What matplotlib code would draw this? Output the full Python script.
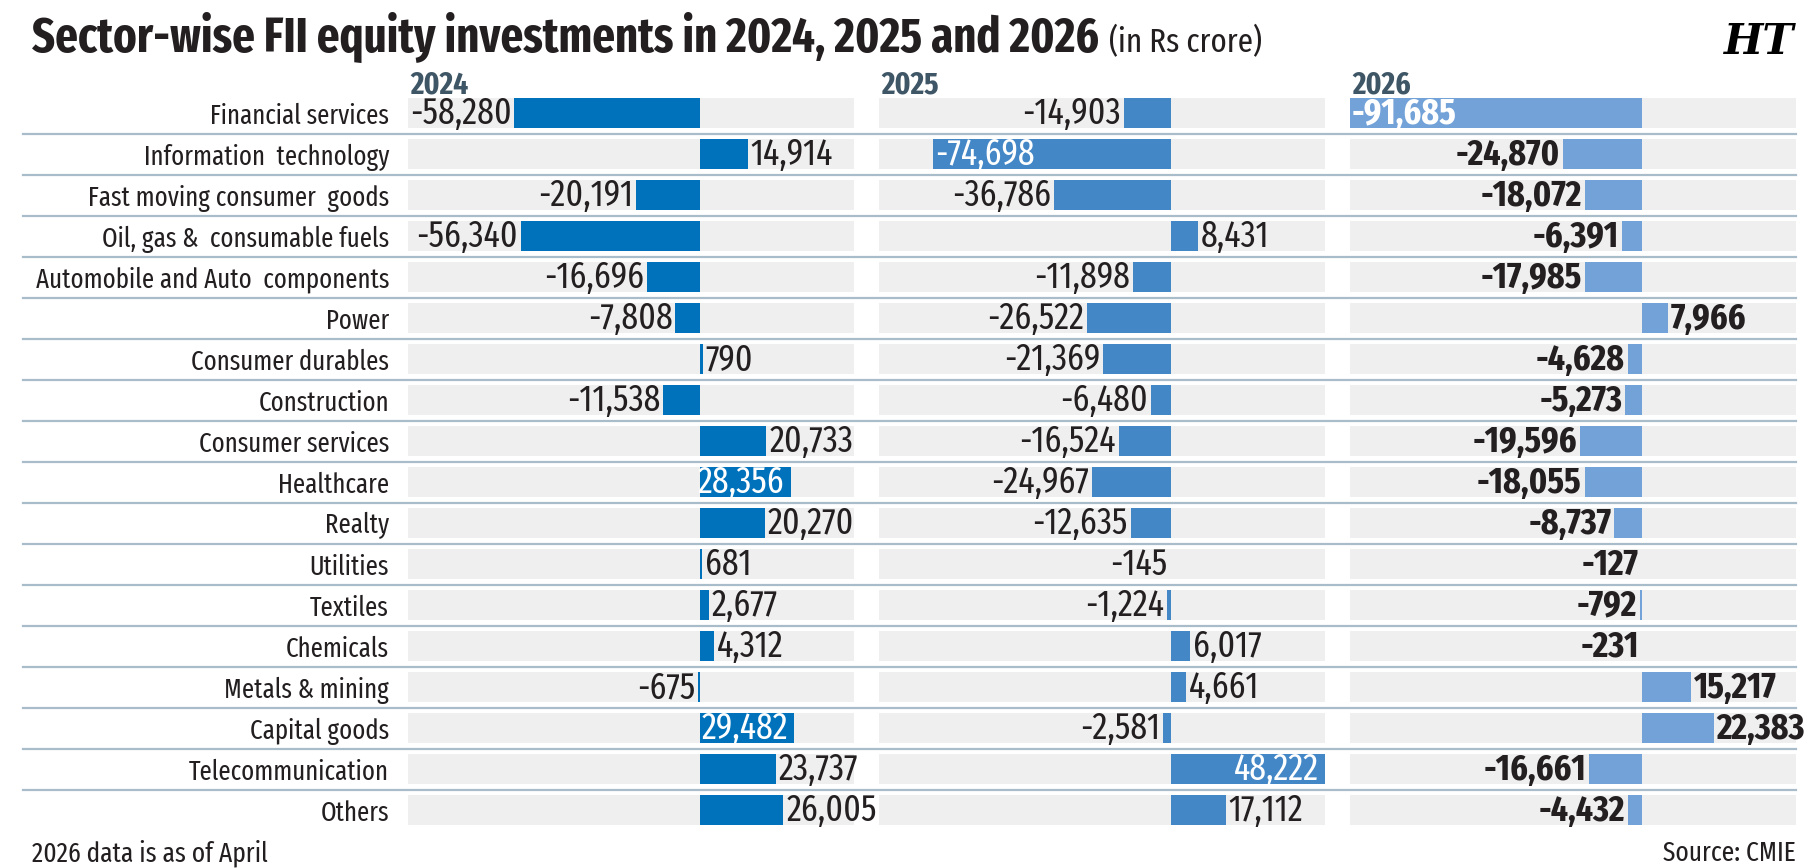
import matplotlib
matplotlib.use("Agg")
import matplotlib.pyplot as plt
from matplotlib import font_manager as fm
from matplotlib.transforms import blended_transform_factory
from matplotlib.lines import Line2D

# ---------------- data ----------------
sectors = [
    "Financial services", "Information  technology", "Fast moving consumer  goods",
    "Oil, gas &  consumable fuels", "Automobile and Auto  components", "Power",
    "Consumer durables", "Construction", "Consumer services", "Healthcare", "Realty",
    "Utilities", "Textiles", "Chemicals", "Metals & mining", "Capital goods",
    "Telecommunication", "Others",
]
years = ["2024", "2025", "2026"]
fii_2024 = [-58280, 14914, -20191, -56340, -16696, -7808, 790, -11538, 20733,
            28356, 20270, 681, 2677, 4312, -675, 29482, 23737, 26005]
fii_2025 = [-14903, -74698, -36786, 8431, -11898, -26522, -21369, -6480, -16524,
            -24967, -12635, -145, -1224, 6017, 4661, -2581, 48222, 17112]
fii_2026 = [-91685, -24870, -18072, -6391, -17985, 7966, -4628, -5273, -19596,
            -18055, -8737, -127, -792, -231, 15217, 22383, -16661, -4432]
series = [fii_2024, fii_2025, fii_2026]

# ---------------- fonts ----------------
names = {f.name for f in fm.fontManager.ttflist}
FONT = "Liberation Sans"
for cand in ["Fira Sans Extra Condensed", "Fira Sans Condensed", "PT Sans Narrow",
             "Open Sans Condensed", "Roboto Condensed", "Liberation Sans Narrow"]:
    if cand in names:
        FONT = cand
        break
plt.rcParams["font.family"] = [FONT, "DejaVu Sans"]

bar_colors = ["#0072BC", "#4387C7", "#72A2D8"]
band_color = "#EFEFEF"
sep_color = "#A9BCCA"
text_color = "#231F20"
year_color = "#3E5666"
label_weights = ["normal", "normal", "bold"]

W, H = 1811, 868
fig = plt.figure(figsize=(W / 100, H / 100), dpi=100)
fig.patch.set_facecolor("white")
renderer = fig.canvas.get_renderer()


def fit_size(text, target_px, weight="normal", base=20):
    t = fig.text(0, 0, text, fontsize=base, fontweight=weight)
    w = t.get_window_extent(renderer=renderer).width
    t.remove()
    return base * target_px / w


cat_fs = fit_size("Automobile and Auto  components", 352)
val_fs = fit_size("-58,280", 102)
year_fs = fit_size("2024", 58, "bold")
title_fs = fit_size("Sector-wise FII equity investments in 2024, 2025 and 2026", 1068, "bold")
sub_fs = fit_size("(in Rs crore)", 153)
foot_fs = fit_size("2026 data is as of April", 236)

xmin = min(min(s) for s in series)
xmax = max(max(s) for s in series)
n = len(sectors)
row0, step = 113, 41
top_px = row0 - step / 2
bot_px = row0 + (n - 1) * step + step / 2
band_left = [408, 879, 1350]
band_w = 446
bar_h = 0.73

axes = []
for i, vals in enumerate(series):
    ax = fig.add_axes([band_left[i] / W, 1 - bot_px / H, band_w / W, (bot_px - top_px) / H])
    ax.set_xlim(xmin, xmax)
    ax.set_ylim(n - 0.5, -0.5)
    ax.axis("off")
    y = list(range(n))
    ax.barh(y, [xmax - xmin] * n, left=xmin, height=bar_h, color=band_color, zorder=1)
    ax.barh(y, vals, height=bar_h, color=bar_colors[i], zorder=2)
    for yi, v in zip(y, vals):
        txt = f"{v:,}"
        inside = v > 27000 or v < -60000
        if inside:
            off, ha = ((-6, "right") if v > 0 else (2, "left"))
            col = "white"
        else:
            off, ha = ((3, "left") if v >= 0 else (-3, "right"))
            col = text_color
        ax.annotate(txt, (v, yi), xytext=(off, -1), textcoords="offset pixels",
                    ha=ha, va="center", color=col, fontsize=val_fs,
                    fontweight=label_weights[i], zorder=3)
    fig.text((band_left[i] + 2) / W, 1 - 93 / H, years[i], ha="left", va="baseline",
             fontsize=year_fs, fontweight="bold", color=year_color)
    axes.append(ax)

ax1 = axes[0]
tr = blended_transform_factory(fig.transFigure, ax1.transData)
for k in range(n - 1):
    fig.add_artist(Line2D([23 / W, 1796 / W], [k + 0.5, k + 0.5], transform=tr,
                          color=sep_color, lw=1.6, zorder=0))
for k, s in enumerate(sectors):
    fig.text(389 / W, k, s, transform=tr, ha="right", va="center_baseline",
             fontsize=cat_fs, color=text_color)

# title
t = fig.text(32 / W, 1 - 52 / H, "Sector-wise FII equity investments in 2024, 2025 and 2026",
             ha="left", va="baseline", fontsize=title_fs, fontweight="bold", color=text_color)
bb = t.get_window_extent(renderer=renderer)
fig.text((bb.x1 + 10) / W, 1 - 52 / H, "(in Rs crore)", ha="left", va="baseline",
         fontsize=sub_fs, color=text_color)
fig.text(1794 / W, 1 - 54 / H, "HT", ha="right", va="baseline", fontsize=30,
         fontweight="bold", fontstyle="italic", family=["DejaVu Serif"], color="black")

# footer
fig.text(32 / W, 1 - 861 / H, "2026 data is as of April", ha="left", va="baseline",
         fontsize=foot_fs, color=text_color)
fig.text(1796 / W, 1 - 861 / H, "Source: CMIE", ha="right", va="baseline",
         fontsize=foot_fs, color=text_color)

fig.savefig("out.png", dpi=100, facecolor="white")
